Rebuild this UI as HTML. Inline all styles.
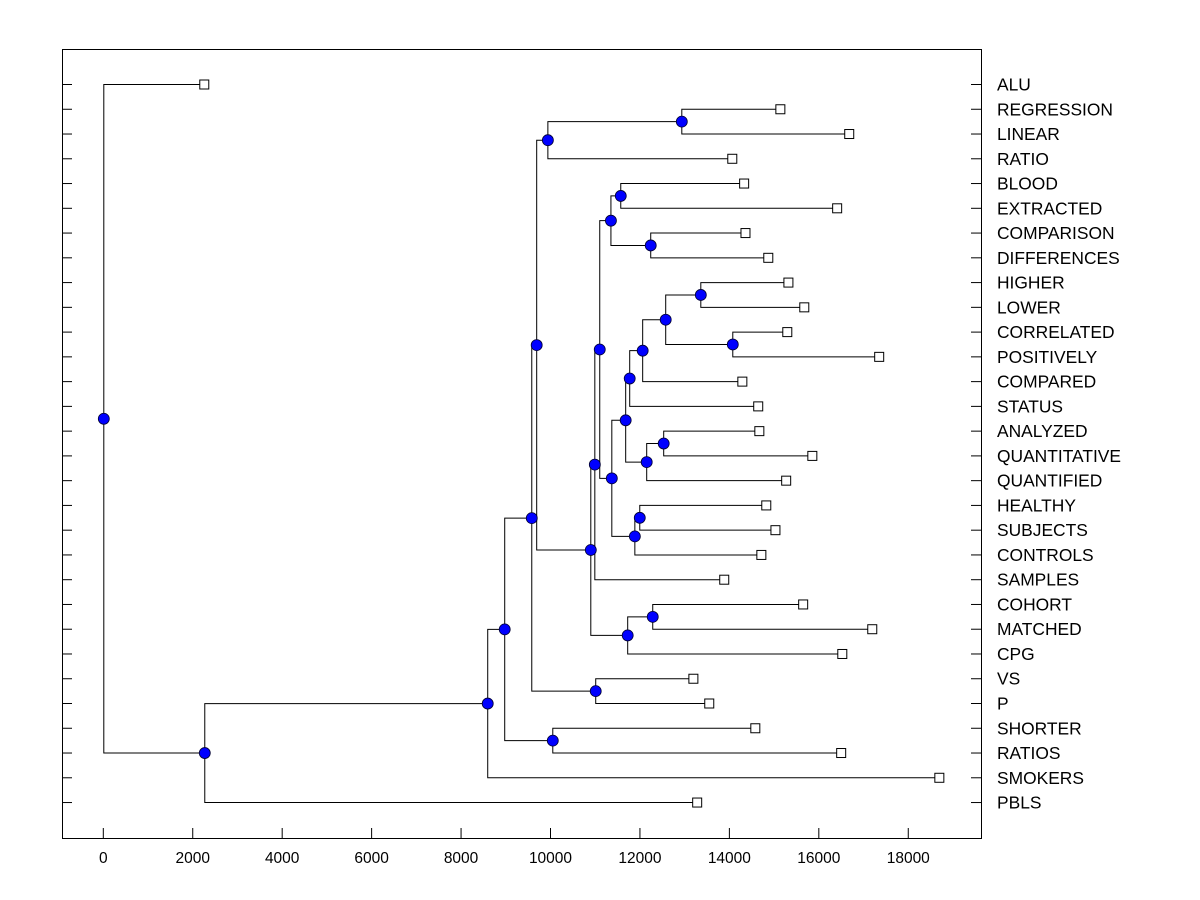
<!DOCTYPE html>
<html><head><meta charset="utf-8"><style>
html,body{margin:0;padding:0;background:#fff;}
svg{display:block;font-family:"Liberation Sans",Arial,sans-serif;}
</style></head><body>
<svg id="chart" width="1200" height="900" xmlns="http://www.w3.org/2000/svg">
<rect x="62.5" y="49.5" width="919" height="789" fill="none" stroke="#000" stroke-width="1"/>
<g id="g"></g>
</svg>
<script>
const leafNames=["ALU","REGRESSION","LINEAR","RATIO","BLOOD","EXTRACTED","COMPARISON","DIFFERENCES","HIGHER","LOWER","CORRELATED","POSITIVELY","COMPARED","STATUS","ANALYZED","QUANTITATIVE","QUANTIFIED","HEALTHY","SUBJECTS","CONTROLS","SAMPLES","COHORT","MATCHED","CPG","VS","P","SHORTER","RATIOS","SMOKERS","PBLS"];
const leafValues=[2258,15140,16680,14065,14330,16410,14360,14870,15320,15675,15295,17350,14290,14645,14670,15855,15270,14825,15030,14715,13885,15650,17195,16525,13195,13550,14580,16500,18695,13280];
// merges: children refer to leaves as "L<i>" and nodes as "N<i>"
const mergeA=["L1","N0","L4","L6","N2","L8","L10","N5","N7","N8","L14","N10","N9","L17","N13","N12","N4","N16","L21","N18","N17","N1","L24","N21","L26","N23","N25","N26","L0"];
const mergeB=["L2","L3","L5","L7","N3","L9","L11","N6","L12","L13","L15","L16","N11","L18","L19","N14","N15","L20","L22","L23","N19","N20","L25","N22","L27","N24","L28","L29","N27"];
const mergeHeights=[12925,9930,11560,12230,11340,13350,14065,12565,12050,11760,12520,12140,11670,11985,11875,11360,11090,10980,12275,11715,10890,9680,11000,9570,10040,8965,8585,2258,0];
const xTicks=[0,2000,4000,6000,8000,10000,12000,14000,16000,18000];

const X=v=>103.3+v*0.04472;
const Y=i=>84+i*24.76;
const g=document.getElementById('g');
const NS="http://www.w3.org/2000/svg";
function mk(t,a,p){const e=document.createElementNS(NS,t);for(const k in a)e.setAttribute(k,a[k]);(p||g).appendChild(e);return e;}

xTicks.forEach(t=>{
  const l=mk('line',{x1:X(t),x2:X(t),y1:828,y2:838,stroke:'#000'});
  
  
  const tx=mk('text',{x:X(t),y:863,'font-size':15.5,'text-anchor':'middle'});
  tx.textContent=t;
  
  
});
leafNames.forEach((n,i)=>{
  const y=Y(i)+0.5;
  const l1=mk('line',{x1:62,x2:72,y1:y,y2:y,stroke:'#000'});
  
  
  const l2=mk('line',{x1:971,x2:982,y1:y,y2:y,stroke:'#000'});
  
  
  const tx=mk('text',{x:997,y:Y(i)+6.5,'font-size':17.4});
  tx.textContent=n;
  
  
});

const pos={};
leafNames.forEach((n,i)=>{pos['L'+i]={x:X(leafValues[i]),y:Y(i)};});
const lines=mk('g',{stroke:'#000','stroke-width':1,fill:'none'});


const nodes=[];
mergeHeights.forEach((h,k)=>{
  const a=pos[mergeA[k]],b=pos[mergeB[k]];
  const x=X(h);
  const p=mk('path',{d:`M${a.x} ${a.y+0.5}H${x+0.5}V${b.y+0.5}H${b.x}`},lines);
  
  
  pos['N'+k]={x:x,y:(a.y+b.y)/2};
  nodes.push(pos['N'+k]);
});
leafNames.forEach((n,i)=>{
  const p=pos['L'+i];
  const r=mk('rect',{x:p.x-4.5,y:p.y-4,width:9,height:9,fill:'#fff',stroke:'#000'});
  
  
});
nodes.forEach(p=>{
  const c=mk('circle',{cx:p.x+0.5,cy:p.y+0.5,r:5.5,fill:'#0000ff',stroke:'#000033','stroke-width':0.8});
  
  
});
</script>
</body></html>
